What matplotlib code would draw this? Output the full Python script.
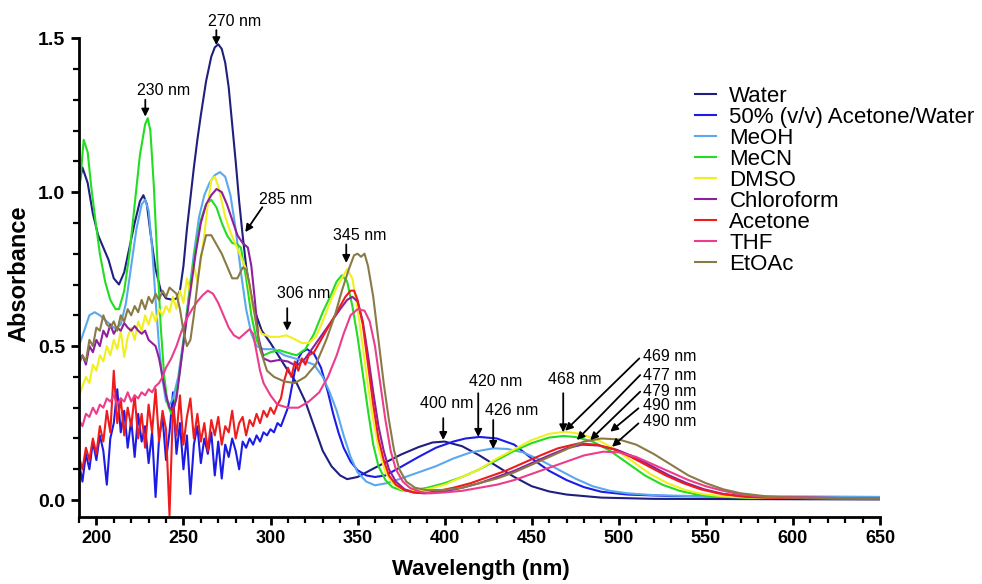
import matplotlib
matplotlib.use("Agg")
import matplotlib.pyplot as plt
from matplotlib.ticker import MultipleLocator

plt.rcParams['font.family'] = ['Liberation Sans', 'DejaVu Sans']

# ---- data (wavelength nm, absorbance) ----
noise_nm = list(range(190, 310, 2))  # sampling grid of the noisy part

mix_noise = [0.12, 0.06, 0.15, 0.10, 0.19, 0.13, 0.21, 0.16, 0.05, 0.20,
             0.25, 0.36, 0.22, 0.29, 0.17, 0.26, 0.14, 0.28, 0.19, 0.24,
             0.12, 0.22, 0.01, 0.20, 0.27, 0.13, 0.22, 0.35, 0.15, 0.25,
             0.10, 0.21, 0.02, 0.18, 0.24, 0.12, 0.20, 0.15, 0.22, 0.08,
             0.19, 0.07, 0.18, 0.14, 0.20, 0.16, 0.10, 0.19, 0.17, 0.20,
             0.18, 0.21, 0.19, 0.22, 0.21, 0.23, 0.22, 0.25, 0.24, 0.27]
acetone_noise = [0.14, 0.10, 0.17, 0.13, 0.20, 0.15, 0.24, 0.19, 0.29, 0.22,
                 0.42, 0.25, 0.33, 0.21, 0.30, 0.24, 0.34, 0.20, 0.28, 0.17,
                 0.31, 0.22, 0.36, 0.19, 0.29, 0.23, -0.05, 0.30, 0.21, 0.34,
                 0.18, 0.27, 0.33, 0.20, 0.28, 0.19, 0.25, 0.16, 0.26, 0.21,
                 0.27, 0.18, 0.24, 0.22, 0.29, 0.20, 0.25, 0.27, 0.21, 0.26,
                 0.24, 0.28, 0.25, 0.29, 0.27, 0.30, 0.28, 0.31, 0.33, 0.39]

water = [(190, 1.02), (192, 1.08), (195, 1.03), (198, 0.93), (201, 0.86), (204, 0.82),
         (207, 0.78), (210, 0.72), (213, 0.70), (216, 0.74), (219, 0.82), (222, 0.90),
         (225, 0.97), (227, 0.99), (229, 0.96), (231, 0.87), (234, 0.75), (237, 0.68),
         (240, 0.655), (244, 0.65), (246, 0.655), (248, 0.68), (250, 0.76), (252, 0.88),
         (254, 0.98), (256, 1.08), (258, 1.17), (260, 1.25), (263, 1.36), (266, 1.44),
         (268, 1.47), (270, 1.48), (272, 1.465), (274, 1.42), (276, 1.34), (278, 1.22),
         (280, 1.10), (282, 0.97), (284, 0.86), (286, 0.76), (288, 0.69), (290, 0.63),
         (295, 0.55), (300, 0.51), (305, 0.465), (310, 0.42), (315, 0.38), (320, 0.32),
         (325, 0.24), (330, 0.16), (335, 0.11), (340, 0.08), (344, 0.068), (350, 0.075),
         (360, 0.105), (367, 0.125), (375, 0.148), (385, 0.172), (393, 0.187), (400, 0.19),
         (410, 0.175), (420, 0.145), (430, 0.11), (440, 0.075), (450, 0.045), (460, 0.028),
         (470, 0.018), (490, 0.008), (520, 0.004), (650, 0.002)]

mix_tail = [(310, 0.30), (312, 0.36), (314, 0.42), (316, 0.46), (318, 0.48), (321, 0.49),
            (325, 0.475), (329, 0.43), (333, 0.35), (336, 0.28), (339, 0.22), (342, 0.17),
            (346, 0.125), (350, 0.097), (355, 0.08), (360, 0.075), (366, 0.08), (375, 0.108),
            (385, 0.14), (395, 0.17), (405, 0.19), (412, 0.20), (420, 0.205), (430, 0.20),
            (440, 0.18), (450, 0.135), (460, 0.095), (470, 0.065), (480, 0.042), (490, 0.027),
            (505, 0.018), (530, 0.013), (570, 0.011), (650, 0.01)]

meoh = [(190, 0.50), (193, 0.55), (196, 0.60), (199, 0.61), (202, 0.60), (205, 0.585),
        (208, 0.57), (211, 0.556), (214, 0.57), (217, 0.64), (220, 0.76), (223, 0.88),
        (226, 0.96), (228, 0.975), (230, 0.94), (232, 0.82), (234, 0.65), (236, 0.50),
        (238, 0.39), (240, 0.32), (242, 0.31), (244, 0.33), (247, 0.40), (250, 0.52),
        (253, 0.66), (256, 0.80), (259, 0.92), (262, 0.99), (265, 1.03), (268, 1.055),
        (271, 1.065), (274, 1.05), (277, 0.99), (280, 0.88), (283, 0.74), (286, 0.62),
        (289, 0.54), (292, 0.50), (296, 0.49), (302, 0.49), (308, 0.47), (314, 0.46),
        (320, 0.45), (325, 0.44), (330, 0.40), (334, 0.35), (338, 0.29), (342, 0.21),
        (346, 0.14), (350, 0.09), (355, 0.06), (360, 0.048), (367, 0.055), (375, 0.07),
        (385, 0.09), (395, 0.11), (405, 0.135), (415, 0.155), (428, 0.168), (436, 0.166),
        (445, 0.155), (455, 0.13), (465, 0.10), (475, 0.07), (485, 0.045), (495, 0.03),
        (505, 0.022), (520, 0.016), (550, 0.012), (650, 0.01)]

mecn = [(190, 0.985), (192.7, 1.17), (195, 1.13), (197, 1.02), (199.4, 0.91), (202, 0.80),
        (205, 0.71), (208, 0.65), (211, 0.62), (213, 0.62), (216, 0.68), (219, 0.80),
        (222, 0.96), (225, 1.12), (228, 1.22), (229.5, 1.24), (231, 1.20), (233, 1.02),
        (235, 0.78), (237, 0.56), (239, 0.40), (241, 0.31), (243, 0.28), (245, 0.31),
        (248, 0.42), (251, 0.56), (254, 0.70), (257, 0.82), (260, 0.91), (263, 0.96),
        (266, 0.975), (269, 0.95), (272, 0.90), (275, 0.86), (278, 0.835), (281, 0.83),
        (283, 0.82), (286, 0.72), (289, 0.60), (292, 0.52), (296, 0.47), (300, 0.48),
        (305, 0.487), (310, 0.478), (315, 0.47), (320, 0.49), (325, 0.54), (330, 0.61),
        (335, 0.67), (338, 0.71), (341, 0.73), (344, 0.71), (347, 0.63), (350, 0.53),
        (353, 0.41), (356, 0.29), (359, 0.18), (362, 0.11), (366, 0.065), (370, 0.042),
        (375, 0.032), (380, 0.03), (390, 0.04), (400, 0.055), (410, 0.075), (420, 0.10),
        (430, 0.13), (440, 0.16), (450, 0.185), (460, 0.203), (468, 0.208), (475, 0.205),
        (485, 0.19), (495, 0.16), (505, 0.12), (515, 0.08), (525, 0.05), (535, 0.03),
        (545, 0.018), (555, 0.012), (570, 0.008), (650, 0.005)]

dmso = [(190, 0.335), (192, 0.37), (194, 0.40), (196, 0.38), (198, 0.44), (200, 0.42),
        (202, 0.47), (204, 0.45), (206, 0.50), (208, 0.47), (210, 0.52), (212, 0.49),
        (214, 0.55), (216, 0.465), (218, 0.53), (220, 0.56), (222, 0.52), (224, 0.58),
        (226, 0.55), (228, 0.60), (230, 0.57), (232, 0.61), (234, 0.58), (236, 0.62),
        (238, 0.60), (240, 0.63), (242, 0.61), (244, 0.66), (246, 0.62), (248, 0.68),
        (250, 0.64), (252, 0.72), (254, 0.67), (256, 0.76), (258, 0.71), (260, 0.78),
        (262, 0.86), (264, 0.96), (266, 1.04), (268, 1.05), (270, 1.02), (272, 0.97),
        (274, 0.92), (277, 0.87), (280, 0.83), (283, 0.79), (286, 0.75), (289, 0.65),
        (292, 0.57), (295, 0.54), (300, 0.53), (305, 0.53), (309, 0.535), (313, 0.525),
        (318, 0.51), (322, 0.51), (326, 0.53), (330, 0.58), (334, 0.64), (338, 0.69),
        (341, 0.72), (344, 0.75), (347, 0.72), (350, 0.62), (353, 0.50), (356, 0.37),
        (359, 0.26), (362, 0.17), (366, 0.09), (370, 0.055), (375, 0.035), (380, 0.03),
        (390, 0.035), (400, 0.05), (410, 0.075), (420, 0.10), (430, 0.135), (440, 0.165),
        (450, 0.195), (460, 0.215), (469, 0.222), (478, 0.215), (488, 0.195), (498, 0.165),
        (508, 0.125), (518, 0.085), (528, 0.055), (538, 0.033), (548, 0.02), (560, 0.012),
        (575, 0.008), (650, 0.005)]

chloroform = [(190, 0.455), (192, 0.47), (194, 0.44), (196, 0.50), (198, 0.48), (200, 0.52),
              (202, 0.50), (204, 0.55), (206, 0.53), (208, 0.57), (210, 0.54), (212, 0.56),
              (214, 0.55), (216, 0.575), (218, 0.56), (220, 0.55), (222, 0.565), (224, 0.55),
              (226, 0.54), (228, 0.55), (230, 0.52), (232, 0.51), (234, 0.50), (236, 0.46),
              (238, 0.40), (240, 0.34), (242, 0.30), (244, 0.29), (246, 0.33), (248, 0.42),
              (251, 0.55), (254, 0.68), (257, 0.80), (260, 0.90), (263, 0.96), (266, 0.99),
              (269, 1.01), (272, 1.00), (275, 0.96), (278, 0.91), (281, 0.86), (284, 0.835),
              (287, 0.82), (289, 0.76), (291, 0.65), (293, 0.53), (296, 0.46), (300, 0.45),
              (305, 0.455), (310, 0.45), (315, 0.435), (320, 0.46), (325, 0.50), (330, 0.54),
              (335, 0.58), (340, 0.62), (344, 0.65), (347, 0.66), (350, 0.645), (353, 0.58),
              (356, 0.47), (359, 0.35), (362, 0.24), (365, 0.16), (368, 0.10), (372, 0.06),
              (377, 0.035), (382, 0.025), (390, 0.022), (400, 0.028), (410, 0.04), (420, 0.055),
              (430, 0.075), (440, 0.095), (450, 0.12), (460, 0.145), (470, 0.168), (479, 0.18),
              (489, 0.177), (499, 0.163), (509, 0.14), (519, 0.11), (529, 0.08), (539, 0.055),
              (549, 0.035), (560, 0.02), (575, 0.01), (650, 0.005)]

acetone_tail = [(310, 0.43), (312, 0.40), (314, 0.45), (316, 0.42), (318, 0.46), (320, 0.44),
                (322, 0.47), (325, 0.48), (328, 0.51), (331, 0.54), (334, 0.57), (337, 0.60),
                (340, 0.63), (343, 0.66), (346, 0.68), (348, 0.68), (350, 0.65), (353, 0.57),
                (356, 0.44), (359, 0.31), (362, 0.20), (365, 0.13), (368, 0.08), (372, 0.05),
                (377, 0.032), (382, 0.025), (388, 0.022), (395, 0.028), (405, 0.04), (415, 0.055),
                (425, 0.075), (435, 0.095), (445, 0.12), (455, 0.145), (465, 0.168), (477, 0.184),
                (487, 0.18), (497, 0.165), (507, 0.14), (517, 0.11), (527, 0.08), (537, 0.055),
                (547, 0.035), (557, 0.022), (570, 0.012), (585, 0.008), (650, 0.005)]

thf = [(190, 0.26), (192, 0.24), (194, 0.28), (196, 0.27), (198, 0.30), (200, 0.28),
       (202, 0.31), (204, 0.30), (206, 0.33), (208, 0.32), (210, 0.34), (212, 0.31),
       (214, 0.33), (216, 0.32), (218, 0.35), (220, 0.32), (222, 0.34), (224, 0.33),
       (226, 0.35), (228, 0.34), (230, 0.36), (232, 0.35), (234, 0.37), (236, 0.38),
       (238, 0.40), (240, 0.43), (243, 0.46), (246, 0.50), (249, 0.55), (252, 0.59),
       (255, 0.62), (258, 0.645), (261, 0.665), (264, 0.68), (267, 0.67), (270, 0.64),
       (273, 0.60), (276, 0.56), (279, 0.535), (282, 0.525), (285, 0.54), (288, 0.555),
       (290, 0.54), (292, 0.48), (294, 0.42), (296, 0.38), (300, 0.34), (304, 0.31),
       (310, 0.30), (316, 0.30), (322, 0.32), (328, 0.35), (333, 0.40), (338, 0.47),
       (342, 0.54), (346, 0.60), (350, 0.62), (354, 0.615), (357, 0.58), (360, 0.50),
       (363, 0.38), (366, 0.26), (369, 0.16), (372, 0.10), (376, 0.06), (380, 0.04),
       (386, 0.027), (392, 0.022), (400, 0.025), (410, 0.03), (420, 0.04), (430, 0.05),
       (440, 0.065), (450, 0.085), (460, 0.105), (470, 0.125), (480, 0.145), (491, 0.157),
       (500, 0.155), (510, 0.14), (520, 0.115), (530, 0.09), (540, 0.065), (550, 0.045),
       (560, 0.03), (570, 0.018), (585, 0.01), (650, 0.005)]

etoac = [(190, 0.44), (192, 0.47), (194, 0.45), (196, 0.52), (198, 0.50), (200, 0.56),
         (202, 0.55), (204, 0.60), (206, 0.57), (208, 0.56), (210, 0.58), (212, 0.55),
         (214, 0.60), (216, 0.58), (218, 0.62), (220, 0.60), (222, 0.63), (224, 0.61),
         (226, 0.65), (228, 0.62), (230, 0.66), (232, 0.64), (234, 0.67), (236, 0.65),
         (238, 0.68), (240, 0.66), (242, 0.69), (244, 0.68), (246, 0.67), (248, 0.62),
         (250, 0.55), (252, 0.50), (254, 0.52), (256, 0.60), (258, 0.70), (260, 0.79),
         (263, 0.86), (266, 0.86), (269, 0.83), (272, 0.80), (275, 0.76), (278, 0.72),
         (281, 0.72), (284, 0.755), (286, 0.75), (288, 0.70), (291, 0.60), (294, 0.49),
         (298, 0.42), (302, 0.40), (308, 0.385), (314, 0.38), (320, 0.40), (326, 0.44),
         (332, 0.52), (337, 0.60), (341, 0.68), (345, 0.75), (348, 0.795), (350, 0.80),
         (352, 0.79), (354, 0.80), (356, 0.76), (359, 0.66), (362, 0.52), (365, 0.38),
         (368, 0.26), (371, 0.16), (374, 0.10), (378, 0.06), (383, 0.04), (390, 0.032),
         (400, 0.033), (410, 0.04), (420, 0.055), (430, 0.07), (440, 0.09), (450, 0.115),
         (460, 0.14), (470, 0.165), (480, 0.19), (490, 0.20), (500, 0.197), (510, 0.18),
         (520, 0.15), (530, 0.115), (540, 0.08), (550, 0.055), (560, 0.035), (570, 0.022),
         (585, 0.012), (600, 0.008), (650, 0.005)]

mix = list(zip(noise_nm, mix_noise)) + mix_tail
acetone = list(zip(noise_nm, acetone_noise)) + acetone_tail

solvents = ["Water", "50% (v/v) Acetone/Water", "MeOH", "MeCN", "DMSO",
            "Chloroform", "Acetone", "THF", "EtOAc"]
spectra = [water, mix, meoh, mecn, dmso, chloroform, acetone, thf, etoac]
colors = ["#1f1f80", "#1c1ce6", "#5aa8ee", "#22dd22", "#f0f020",
          "#8e1f9e", "#ee1c1c", "#ec3c8c", "#8a7a48"]

# peak labels: text, text position, arrow tail, arrow tip
peak_labels = ["270 nm", "230 nm", "285 nm", "345 nm", "306 nm", "400 nm", "420 nm",
               "426 nm", "468 nm", "469 nm", "477 nm", "479 nm", "490 nm", "490 nm"]
label_pos = [(264.3, 1.555), (223.5, 1.33), (293.6, 0.977), (336.0, 0.86), (303.9, 0.672),
             (386.0, 0.312), (414.0, 0.386), (423.3, 0.292), (459.5, 0.39), (514.2, 0.465),
             (514.2, 0.406), (514.2, 0.351), (514.2, 0.306), (514.2, 0.256)]
arrow_tail = [(268.9, 1.526), (228.1, 1.30), (295.3, 0.951), (343.5, 0.83), (309.6, 0.623),
              (399.2, 0.266), (419.3, 0.347), (427.9, 0.26), (468.1, 0.347), (511.8, 0.46),
              (512.3, 0.406), (512.3, 0.352), (511.3, 0.298), (511.3, 0.249)]
arrow_tip = [(268.9, 1.477), (228.1, 1.245), (285.5, 0.87), (343.5, 0.77), (309.6, 0.55),
             (399.2, 0.195), (419.3, 0.205), (427.9, 0.166), (468.1, 0.22), (469.2, 0.225),
             (475.9, 0.195), (483.6, 0.195), (495.1, 0.222), (496.1, 0.173)]

fig = plt.figure(figsize=(9.82, 5.84), dpi=100)
ax = fig.add_axes([0.0804, 0.1147, 0.8157, 0.820])

for name, pts, col in zip(solvents, spectra, colors):
    x = [p[0] for p in pts]
    y = [p[1] for p in pts]
    ax.plot(x, y, color=col, lw=1.5, label=name)

for txt, pos, tail, tip in zip(peak_labels, label_pos, arrow_tail, arrow_tip):
    ax.text(pos[0], pos[1], txt, fontsize=11.5, ha='left', va='center')
    ax.annotate('', xy=tip, xytext=tail,
                arrowprops=dict(arrowstyle='-|>', color='black', lw=1.3,
                                mutation_scale=11, shrinkA=0, shrinkB=0))

ax.set_xlim(190, 650)
ax.set_ylim(-0.055, 1.5)
for s in ['top', 'right']:
    ax.spines[s].set_visible(False)
for s in ['left', 'bottom']:
    ax.spines[s].set_linewidth(2.0)

ax.xaxis.set_major_locator(MultipleLocator(50))
ax.xaxis.set_minor_locator(MultipleLocator(10))
ax.yaxis.set_minor_locator(MultipleLocator(0.1))
ax.set_yticks([0.0, 0.5, 1.0, 1.5])
ax.set_yticklabels(["0.0", "0.5", "1.0", "1.5"])
ax.tick_params(which='major', length=6, width=2, direction='out')
ax.tick_params(which='minor', length=4, width=1.6, direction='out')
ax.tick_params(axis='x', labelsize=13, pad=3)
ax.tick_params(axis='y', labelsize=14, pad=4)
for lab in ax.get_xticklabels() + ax.get_yticklabels():
    lab.set_fontweight('bold')

ax.set_xlabel("Wavelength (nm)", fontsize=16, fontweight='bold')
ax.set_ylabel("Absorbance", fontsize=17, fontweight='bold')
ax.xaxis.set_label_coords(0.502, -0.088)
ax.yaxis.set_label_coords(-0.060, 0.507)

ax.legend(loc='upper left', bbox_to_anchor=(0.7077, 0.853), bbox_transform=fig.transFigure,
          frameon=False, fontsize=16, handlelength=0.95, handletextpad=0.6,
          labelspacing=0.0, borderaxespad=0, borderpad=0)

fig.savefig("out.png", dpi=100)
